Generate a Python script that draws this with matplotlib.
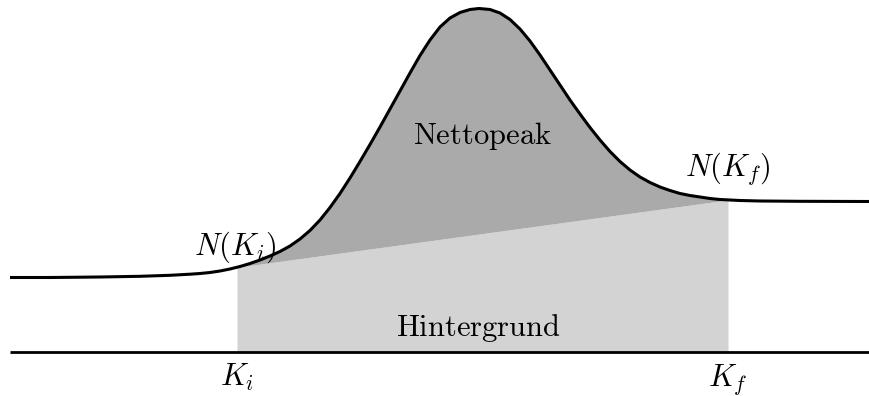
import numpy as np
import matplotlib.pyplot as plt

plt.rcParams['mathtext.fontset'] = 'cm'

# Spektrum: Kanal und Zählrate (Nulllinie bei 0)
kanal = [10, 50, 100, 140, 170, 190, 200, 210, 220, 230, 240, 250, 260, 270,
         280, 290, 300, 310, 320, 330, 340, 350, 360, 370, 380, 390, 400, 410,
         420, 430, 440, 450, 460, 470, 479, 490, 500, 510, 520, 530, 540, 550,
         560, 570, 580, 590, 600, 610, 620, 630, 640, 650, 660, 670, 680, 690,
         700, 710, 720, 730, 740, 760, 800, 869]
zaehlrate = [74.5, 74.5, 75, 75.7, 76.7, 77.8, 78.5, 79.5, 81, 83, 85.5, 88.5,
             92, 96, 100.5, 106, 113, 121.5, 132, 144.5, 158.5, 174, 190.5,
             207.5, 225, 243, 261, 279, 296.5, 312, 325, 334, 339.5, 342.5,
             343.5, 342.5, 339, 332.5, 323, 311, 297, 282, 267, 252, 238,
             224.5, 212, 200.5, 190.5, 182, 175, 169.5, 165, 161.5, 158.5,
             156.5, 155, 153.5, 152.5, 152, 151.5, 151, 150.7, 150.5]

K_i = 237
K_f = 728

x = np.array(kanal, dtype=float)
y = np.array(zaehlrate, dtype=float)

N_i = np.interp(K_i, x, y)
N_f = np.interp(K_f, x, y)

fig = plt.figure(figsize=(8.69, 3.96), dpi=100)
ax = fig.add_axes([0, 0, 1, 1])
ax.set_xlim(0, 869)
ax.set_ylim(-44, 352)
ax.axis('off')

# Bereich zwischen K_i und K_f
innen = (x > K_i) & (x < K_f)
xs = np.concatenate([[K_i], x[innen], [K_f]])
ys = np.concatenate([[N_i], y[innen], [N_f]])
untergrund = N_i + (N_f - N_i) * (xs - K_i) / (K_f - K_i)

ax.fill_between(xs, 0, untergrund, color='#d3d3d3', lw=0)
ax.fill_between(xs, untergrund, ys, color='#aaaaaa', lw=0)

ax.plot(x, y, color='black', lw=2.2, solid_capstyle='butt', solid_joinstyle='round')
ax.plot([10, 869], [0, 0], color='black', lw=2.0, solid_capstyle='butt')

fs = 22
ax.text(482, 352 - 144, r'$\mathrm{Nettopeak}$', ha='center', va='baseline', fontsize=fs)
ax.text(478, 352 - 336, r'$\mathrm{Hintergrund}$', ha='center', va='baseline', fontsize=fs)
ax.text(235, 352 - 255, r'$N(K_i)$', ha='center', va='baseline', fontsize=fs)
ax.text(728, 352 - 176, r'$N(K_f)$', ha='center', va='baseline', fontsize=fs)
ax.text(K_i, 352 - 386, r'$K_i$', ha='center', va='baseline', fontsize=fs)
ax.text(K_f, 352 - 386, r'$K_f$', ha='center', va='baseline', fontsize=fs)

fig.savefig('out.png', dpi=100)
